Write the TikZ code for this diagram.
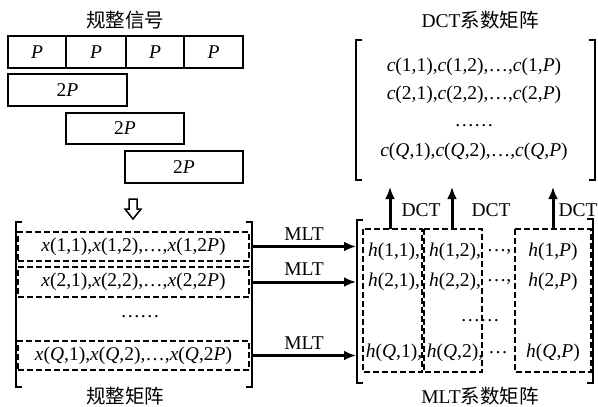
\documentclass[tikz,border=0pt]{standalone}
\usepackage{fontspec}
\setmainfont{Liberation Serif}
\newfontfamily\cjk{Noto Sans CJK SC}
\usetikzlibrary{arrows.meta, positioning}
\newcommand\txtsz{\fontsize{19.5}{22}\selectfont}
\newcommand\vi[1]{\textit{#1}}

\begin{document}
\begin{tikzpicture}[x=1pt, y=-1pt,
    every node/.style={font=\txtsz, inner sep=0pt},
    sigbox/.style={draw, line width=1.4pt, minimum height=32pt},
    rowbox/.style={draw, line width=1.6pt, dash pattern=on 6pt off 3pt, minimum width=231pt, minimum height=29pt},
    colbox/.style={draw, line width=1.6pt, dash pattern=on 6pt off 3pt},
    brk/.style={line width=1.5pt},
    fat/.style={line width=3pt, -{Latex[length=12pt,width=10pt]}}]
        \useasboundingbox (0,0) rectangle (598,407);

        % Regular signal
        \node (sigtitle) at (125,20) {\cjk 规整信号};
        \node[sigbox, minimum width=58pt] (p1) at (37,52) {\vi{P}};
        \node[sigbox, minimum width=60pt] (p2) at (96,52) {\vi{P}};
        \node[sigbox, minimum width=58pt] (p3) at (155,52) {\vi{P}};
        \node[sigbox, minimum width=59pt] (p4) at (213.5,52) {\vi{P}};
        \node[sigbox, minimum width=119pt] (w1) at (67.5,90) {2\vi{P}};
        \node[sigbox, minimum width=118pt, minimum height=31pt] (w2) at (125,128.5) {2\vi{P}};
        \node[sigbox, minimum width=118pt] (w3) at (184,167) {2\vi{P}};

        % Hollow arrow
        \draw[line width=1.5pt] (129,199) -- (137,199) -- (137,209) -- (141,209) -- (133,219) -- (125,209) -- (129,209) -- cycle;

        % Regular matrix
        \draw[brk] (22,222) -- (16,222) -- (16,387) -- (22,387);
        \draw[brk] (246,222) -- (252,222) -- (252,387) -- (246,387);
        \node[rowbox] (x1) at (133.5,246.5) {\vi{x}(1,1),\vi{x}(1,2),…,\vi{x}(1,2\vi{P})};
        \node[rowbox, minimum height=30pt] (x2) at (133.5,282) {\vi{x}(2,1),\vi{x}(2,2),…,\vi{x}(2,2\vi{P})};
        \node (xdots) at (140,317) {……};
        \node[rowbox] (x3) at (133.5,355.5) {\vi{x}(\vi{Q},1),\vi{x}(\vi{Q},2),…,\vi{x}(\vi{Q},2\vi{P})};
        \node (xtitle) at (125,396) {\cjk 规整矩阵};

        % MLT coefficient matrix
        \coordinate (lbr) at (252,0);
        \coordinate (rbr) at (356,0);
        \draw[brk] (363,220) -- (357,220) -- (357,383) -- (363,383);
        \draw[brk] (587,219) -- (593,219) -- (593,383) -- (587,383);
        \draw[colbox] (363,229) rectangle (422,372);
        \draw[colbox] (424,229) rectangle (482,372);
        \draw[colbox] (515,229) rectangle (591,372);
        \coordinate (c1) at (390,229);
        \coordinate (c2) at (452,229);
        \coordinate (c3) at (553,229);

        \node (h11) at (394,252) {\vi{h}(1,1),};
        \node (h12) at (455,252) {\vi{h}(1,2),};
        \node (h1d) at (499,252) {…,};
        \node (h1p) at (553,252) {\vi{h}(1,\vi{P})};
        \node (h21) at (394,282) {\vi{h}(2,1),};
        \node (h22) at (455,282) {\vi{h}(2,2),};
        \node (h2d) at (499,282) {…,};
        \node (h2p) at (553,282) {\vi{h}(2,\vi{P})};
        \node (hdots) at (480,321) {……};
        \node (hq1) at (394,353) {\vi{h}(\vi{Q},1),};
        \node (hq2) at (455,353) {\vi{h}(\vi{Q},2),};
        \node (hqd) at (498,353) {…};
        \node (hqp) at (553,353) {\vi{h}(\vi{Q},\vi{P})};
        \node (htitle) at (480,396) {MLT\cjk 系数矩阵};

        % MLT arrows
        \draw[fat] (x1.east -| lbr) -- (x1.east -| rbr) node[midway, above=5pt] {MLT};
        \draw[fat] (x2.east -| lbr) -- (x2.east -| rbr) node[midway, above=5pt] {MLT};
        \draw[fat] (x3.east -| lbr) -- (x3.east -| rbr) node[midway, above=5pt] {MLT};

        % DCT coefficient matrix
        \node (dtitle) at (480,20) {DCT\cjk 系数矩阵};
        \draw[brk] (362,40) -- (356,40) -- (356,180) -- (362,180);
        \draw[brk] (589,40) -- (595,40) -- (595,180) -- (589,180);
        \node (c1row) at (474,67) {\vi{c}(1,1),\vi{c}(1,2),…,\vi{c}(1,\vi{P})};
        \node (c2row) at (474,95) {\vi{c}(2,1),\vi{c}(2,2),…,\vi{c}(2,\vi{P})};
        \node (cdots) at (474,126) {……};
        \node (cqrow) at (474,152) {\vi{c}(\vi{Q},1),\vi{c}(\vi{Q},2),…,\vi{c}(\vi{Q},\vi{P})};
        \coordinate (dbot) at (0,187);

        % DCT arrows
        \draw[fat] (c1) -- (c1 |- dbot);
        \draw[fat] (c2) -- (c2 |- dbot);
        \draw[fat] (c3) -- (c3 |- dbot);
        \node (dct1) at (421,210) {DCT};
        \node (dct2) at (491,210) {DCT};
        \node (dct3) at (578,210) {DCT};

    \end{tikzpicture}
\end{document}
